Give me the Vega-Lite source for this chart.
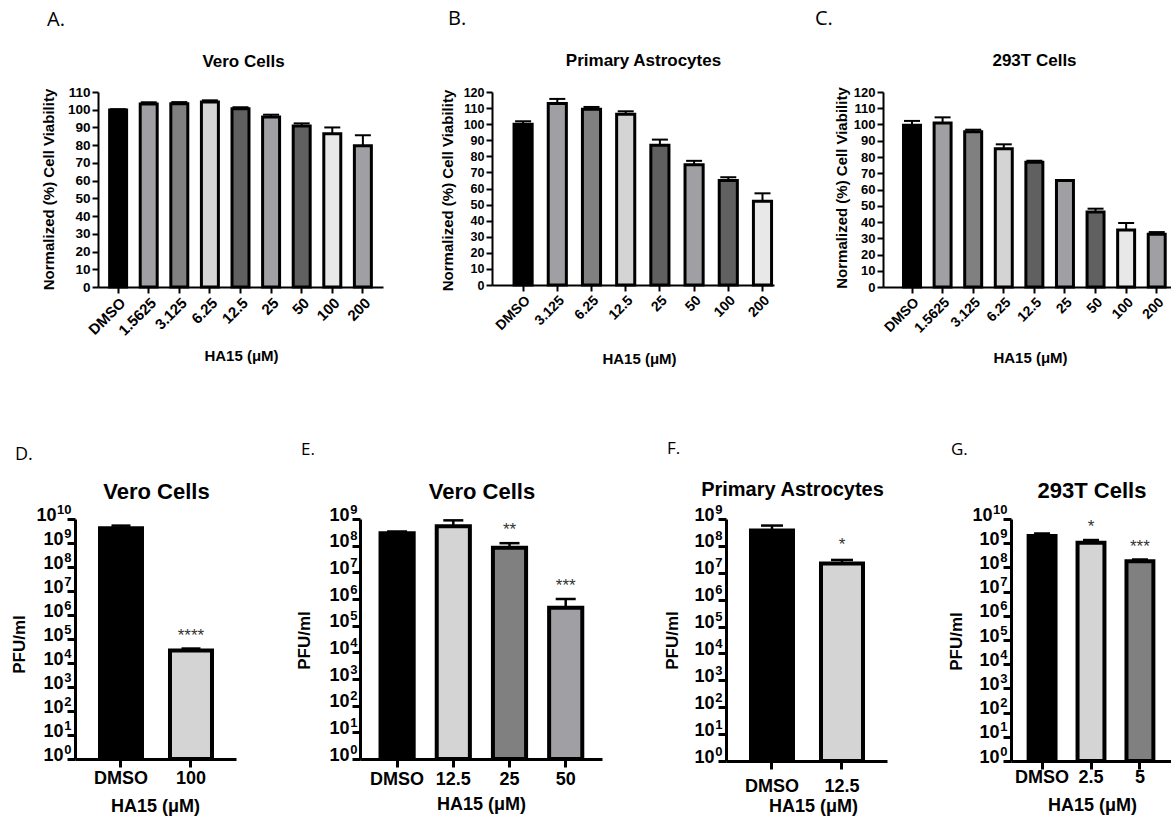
{
  "$schema": "https://vega.github.io/schema/vega-lite/v6.json",
  "autosize": {"type": "none"},
  "padding": {"left": 75, "top": 92, "right": 1096, "bottom": 725},
  "background": "white",
  "config": {
    "font": "Liberation Sans",
    "view": {"stroke": null},
    "axis": {"grid": false, "domainColor": "black", "tickColor": "black", "labelColor": "black", "titleColor": "black", "labelFontWeight": "bold", "titleFontWeight": "bold", "labelFont": "Liberation Sans", "titleFont": "Liberation Sans", "labelOverlap": false},
    "title": {"font": "Open Sans", "fontWeight": "normal", "color": "black", "anchor": "start", "frame": "group"}
  },
  "datasets": {
    "A": [
      {"dose": "DMSO", "value": 99.8, "upper": 100.3},
      {"dose": "1.5625", "value": 103.2, "upper": 104.2},
      {"dose": "3.125", "value": 103.4, "upper": 104.3},
      {"dose": "6.25", "value": 104.4, "upper": 105.3},
      {"dose": "12.5", "value": 100.6, "upper": 101.4},
      {"dose": "25", "value": 95.9, "upper": 97.2},
      {"dose": "50", "value": 90.8, "upper": 92.3},
      {"dose": "100", "value": 86.5, "upper": 90.0},
      {"dose": "200", "value": 79.7, "upper": 85.6}
    ],
    "B": [
      {"dose": "DMSO", "value": 100.0, "upper": 101.8},
      {"dose": "3.125", "value": 112.8, "upper": 115.7},
      {"dose": "6.25", "value": 109.2, "upper": 110.7},
      {"dose": "12.5", "value": 106.1, "upper": 108.0},
      {"dose": "25", "value": 86.9, "upper": 90.4},
      {"dose": "50", "value": 74.7, "upper": 77.2},
      {"dose": "100", "value": 65.0, "upper": 67.0},
      {"dose": "200", "value": 52.0, "upper": 57.0}
    ],
    "C": [
      {"dose": "DMSO", "value": 99.5, "upper": 102.2},
      {"dose": "1.5625", "value": 100.9, "upper": 104.4},
      {"dose": "3.125", "value": 95.6, "upper": 96.8},
      {"dose": "6.25", "value": 85.1, "upper": 87.8},
      {"dose": "12.5", "value": 76.7, "upper": 77.7},
      {"dose": "25", "value": 65.5, "upper": 65.5},
      {"dose": "50", "value": 46.1, "upper": 48.2},
      {"dose": "100", "value": 35.1, "upper": 39.4},
      {"dose": "200", "value": 32.5, "upper": 33.8}
    ],
    "D": [
      {"dose": "DMSO", "value": 4100000000, "upper": 5300000000, "sig": ""},
      {"dose": "100", "value": 33000, "upper": 40000, "sig": "****"}
    ],
    "E": [
      {"dose": "DMSO", "value": 290000000, "upper": 340000000, "sig": ""},
      {"dose": "12.5", "value": 540000000, "upper": 890000000, "sig": ""},
      {"dose": "25", "value": 83000000, "upper": 124000000, "sig": "**"},
      {"dose": "50", "value": 470000, "upper": 1000000, "sig": "***"}
    ],
    "F": [
      {"dose": "DMSO", "value": 370000000, "upper": 570000000, "sig": ""},
      {"dose": "12.5", "value": 22000000, "upper": 30000000, "sig": "*"}
    ],
    "G": [
      {"dose": "DMSO", "value": 2000000000, "upper": 2500000000, "sig": ""},
      {"dose": "2.5", "value": 1050000000, "upper": 1350000000, "sig": "*"},
      {"dose": "5", "value": 180000000, "upper": 210000000, "sig": "***"}
    ]
  },
  "vconcat": [
    {
      "hconcat": [
        {"width": 1, "height": 1, "data": {"values": []}, "mark": {"type": "point", "opacity": 0}},
        {
          "width": 285, "height": 195,
          "title": {"text": "A.", "fontSize": 20, "dx": -51, "offset": 22},
          "data": {"name": "A"},
          "resolve": {"axis": {"x": "independent"}},
          "layer": [
            {"mark": {"type": "rule", "strokeWidth": 2, "color": "black"},
             "encoding": {
               "x": {"field": "dose", "type": "nominal", "scale": {"domain": ["DMSO","1.5625","3.125","6.25","12.5","25","50","100","200"], "paddingInner": 0.445, "paddingOuter": 0.38, "align": 0.5},
                     "axis": {"orient": "top", "title": "Vero Cells", "labels": false, "ticks": false, "domain": false, "titleFontSize": 17, "titleX": 145, "titleY": -26, "titleAlign": "center", "titleBaseline": "alphabetic", "titleAngle": 0}},
               "y": {"field": "value", "type": "quantitative", "scale": {"domain": [0, 110]},
                     "axis": {"values": [0,10,20,30,40,50,60,70,80,90,100,110], "title": "Normalized (%) Cell Viability", "titleFontSize": 15, "titleX": -45, "titleY": 97, "titleAlign": "center", "titleBaseline": "alphabetic", "labelFontSize": 13.5, "labelPadding": 2, "tickSize": 6, "tickWidth": 2, "domainWidth": 2}},
               "y2": {"field": "upper"}
             }},
            {"mark": {"type": "tick", "orient": "horizontal", "size": 16, "thickness": 2, "color": "black", "opacity": 1},
             "encoding": {
               "x": {"field": "dose", "type": "nominal", "axis": null},
               "y": {"field": "upper", "type": "quantitative", "scale": {"domain": [0, 110]},
                     "axis": {"values": [0,10,20,30,40,50,60,70,80,90,100,110], "title": "Normalized (%) Cell Viability", "titleFontSize": 15, "titleX": -45, "titleY": 97, "titleAlign": "center", "titleBaseline": "alphabetic", "labelFontSize": 13.5, "labelPadding": 2, "tickSize": 6, "tickWidth": 2, "domainWidth": 2}}
             }},
            {"mark": {"type": "bar", "stroke": "black", "strokeWidth": 3},
             "encoding": {
               "x": {"field": "dose", "type": "nominal",
                     "axis": {"title": "HA15 (μM)", "labelAngle": -45, "labelFontSize": 15, "labelPadding": 2, "tickSize": 6, "tickWidth": 2, "domainWidth": 2, "titleFontSize": 15, "titleX": 143, "titleY": 73, "titleBaseline": "alphabetic", "titleAlign": "center"}},
               "y": {"field": "value", "type": "quantitative", "scale": {"domain": [0, 110]},
                     "axis": {"values": [0,10,20,30,40,50,60,70,80,90,100,110], "title": "Normalized (%) Cell Viability", "titleFontSize": 15, "titleX": -45, "titleY": 97, "titleAlign": "center", "titleBaseline": "alphabetic", "labelFontSize": 13.5, "labelPadding": 2, "tickSize": 6, "tickWidth": 2, "domainWidth": 2}},
               "fill": {"field": "dose", "type": "nominal", "legend": null,
                        "scale": {"domain": ["DMSO","1.5625","3.125","6.25","12.5","25","50","100","200"], "range": ["#000000","#a0a0a4","#808080","#d4d4d4","#606060","#a0a0a4","#606060","#e8e8e8","#a0a0a4"]}}
             }}
          ]
        },
        {"width": 65, "height": 1, "data": {"values": []}, "mark": {"type": "point", "opacity": 0}},
        {
          "width": 282, "height": 193,
          "title": {"text": "B.", "fontSize": 20, "dx": -44, "offset": 22},
          "data": {"name": "B"},
          "resolve": {"axis": {"x": "independent"}},
          "layer": [
            {"mark": {"type": "rule", "strokeWidth": 2, "color": "black"},
             "encoding": {
               "x": {"field": "dose", "type": "nominal", "scale": {"domain": ["DMSO","3.125","6.25","12.5","25","50","100","200"], "paddingInner": 0.47, "paddingOuter": 0.358, "align": 0.9},
                     "axis": {"orient": "top", "title": "Primary Astrocytes", "labels": false, "ticks": false, "domain": false, "titleFontSize": 17, "titleX": 151, "titleY": -27, "titleAlign": "center", "titleBaseline": "alphabetic", "titleAngle": 0}},
               "y": {"field": "value", "type": "quantitative", "scale": {"domain": [0, 120]},
                     "axis": {"values": [0,10,20,30,40,50,60,70,80,90,100,110,120], "title": "Normalized (%) Cell Viability", "titleFontSize": 15, "titleX": -40, "titleY": 98, "titleAlign": "center", "titleBaseline": "alphabetic", "labelFontSize": 12.5, "labelPadding": 2, "tickSize": 6, "tickWidth": 2, "domainWidth": 2}},
               "y2": {"field": "upper"}
             }},
            {"mark": {"type": "tick", "orient": "horizontal", "size": 16, "thickness": 2, "color": "black", "opacity": 1},
             "encoding": {
               "x": {"field": "dose", "type": "nominal", "axis": null},
               "y": {"field": "upper", "type": "quantitative", "scale": {"domain": [0, 120]},
                     "axis": {"values": [0,10,20,30,40,50,60,70,80,90,100,110,120], "title": "Normalized (%) Cell Viability", "titleFontSize": 15, "titleX": -40, "titleY": 98, "titleAlign": "center", "titleBaseline": "alphabetic", "labelFontSize": 12.5, "labelPadding": 2, "tickSize": 6, "tickWidth": 2, "domainWidth": 2}}
             }},
            {"mark": {"type": "bar", "stroke": "black", "strokeWidth": 3},
             "encoding": {
               "x": {"field": "dose", "type": "nominal",
                     "axis": {"title": "HA15 (μM)", "labelAngle": -45, "labelFontSize": 14, "labelPadding": 2, "tickSize": 6, "tickWidth": 2, "domainWidth": 2, "titleFontSize": 15, "titleX": 147, "titleY": 78, "titleBaseline": "alphabetic", "titleAlign": "center"}},
               "y": {"field": "value", "type": "quantitative", "scale": {"domain": [0, 120]},
                     "axis": {"values": [0,10,20,30,40,50,60,70,80,90,100,110,120], "title": "Normalized (%) Cell Viability", "titleFontSize": 15, "titleX": -40, "titleY": 98, "titleAlign": "center", "titleBaseline": "alphabetic", "labelFontSize": 12.5, "labelPadding": 2, "tickSize": 6, "tickWidth": 2, "domainWidth": 2}},
               "fill": {"field": "dose", "type": "nominal", "legend": null,
                        "scale": {"domain": ["DMSO","3.125","6.25","12.5","25","50","100","200"], "range": ["#000000","#a0a0a4","#808080","#d4d4d4","#606060","#a0a0a4","#606060","#e8e8e8"]}}
             }}
          ]
        },
        {"width": 65, "height": 1, "data": {"values": []}, "mark": {"type": "point", "opacity": 0}},
        {
          "width": 288, "height": 195,
          "title": {"text": "C.", "fontSize": 20, "dx": -68, "offset": 22},
          "data": {"name": "C"},
          "resolve": {"axis": {"x": "independent"}},
          "layer": [
            {"mark": {"type": "rule", "strokeWidth": 2, "color": "black"},
             "encoding": {
               "x": {"field": "dose", "type": "nominal", "scale": {"domain": ["DMSO","1.5625","3.125","6.25","12.5","25","50","100","200"], "paddingInner": 0.445, "paddingOuter": 0.43, "align": 0.78},
                     "axis": {"orient": "top", "title": "293T Cells", "labels": false, "ticks": false, "domain": false, "titleFontSize": 17, "titleX": 151, "titleY": -27, "titleAlign": "center", "titleBaseline": "alphabetic", "titleAngle": 0}},
               "y": {"field": "value", "type": "quantitative", "scale": {"domain": [0, 120]},
                     "axis": {"values": [0,10,20,30,40,50,60,70,80,90,100,110,120], "title": "Normalized (%) Cell Viability", "titleFontSize": 15, "titleX": -37, "titleY": 95.5, "titleAlign": "center", "titleBaseline": "alphabetic", "labelFontSize": 13, "labelPadding": 2, "tickSize": 6, "tickWidth": 2, "domainWidth": 2}},
               "y2": {"field": "upper"}
             }},
            {"mark": {"type": "tick", "orient": "horizontal", "size": 16, "thickness": 2, "color": "black", "opacity": 1},
             "encoding": {
               "x": {"field": "dose", "type": "nominal", "axis": null},
               "y": {"field": "upper", "type": "quantitative", "scale": {"domain": [0, 120]},
                     "axis": {"values": [0,10,20,30,40,50,60,70,80,90,100,110,120], "title": "Normalized (%) Cell Viability", "titleFontSize": 15, "titleX": -37, "titleY": 95.5, "titleAlign": "center", "titleBaseline": "alphabetic", "labelFontSize": 13, "labelPadding": 2, "tickSize": 6, "tickWidth": 2, "domainWidth": 2}}
             }},
            {"mark": {"type": "bar", "stroke": "black", "strokeWidth": 3},
             "encoding": {
               "x": {"field": "dose", "type": "nominal",
                     "axis": {"title": "HA15 (μM)", "labelAngle": -45, "labelFontSize": 14, "labelPadding": 2, "tickSize": 6, "tickWidth": 2, "domainWidth": 2, "titleFontSize": 15, "titleX": 147, "titleY": 75, "titleBaseline": "alphabetic", "titleAlign": "center"}},
               "y": {"field": "value", "type": "quantitative", "scale": {"domain": [0, 120]},
                     "axis": {"values": [0,10,20,30,40,50,60,70,80,90,100,110,120], "title": "Normalized (%) Cell Viability", "titleFontSize": 15, "titleX": -37, "titleY": 95.5, "titleAlign": "center", "titleBaseline": "alphabetic", "labelFontSize": 13, "labelPadding": 2, "tickSize": 6, "tickWidth": 2, "domainWidth": 2}},
               "fill": {"field": "dose", "type": "nominal", "legend": null,
                        "scale": {"domain": ["DMSO","1.5625","3.125","6.25","12.5","25","50","100","200"], "range": ["#000000","#a0a0a4","#808080","#d4d4d4","#606060","#a0a0a4","#606060","#e8e8e8","#a0a0a4"]}}
             }}
          ]
        }
      ],
      "spacing": 22,
      "bounds": "flush",
      "resolve": {"scale": {"fill": "independent"}}
    },
    {
      "hconcat": [
        {
          "width": 161, "height": 240,
          "title": {"text": "D.", "fontSize": 18, "dx": -60, "offset": 16},
          "data": {"name": "D"},
          "resolve": {"axis": {"x": "independent", "y": "independent"}},
          "layer": [
            {"mark": {"type": "rule", "strokeWidth": 2.5, "color": "black"},
             "encoding": {
               "x": {"field": "dose", "type": "nominal", "scale": {"domain": ["DMSO","100"], "paddingInner": 0.4, "paddingOuter": 0.35, "align": 0.51},
                     "axis": {"orient": "top", "title": "Vero Cells", "labels": false, "ticks": false, "domain": false, "titleFontSize": 22, "titleX": 81, "titleY": -21, "titleAlign": "center", "titleBaseline": "alphabetic", "titleAngle": 0}},
               "y": {"field": "value", "type": "quantitative", "scale": {"type": "log", "domain": [1, 10000000000]},
                     "axis": {"orient": "left", "values": [1,10,100,1000,10000,100000,1000000,10000000,100000000,1000000000,10000000000], "labelExpr": "datum.value > 5000000000 ? '' : '10'", "title": "PFU/ml", "titleFontSize": 17, "titleX": -51, "titleY": 125, "titleAlign": "center", "titleBaseline": "alphabetic", "labelFontSize": 18, "labelBaseline": "alphabetic", "labelOffset": 1, "labelPadding": 4, "tickSize": 8, "tickWidth": 3, "domainWidth": 3}},
               "y2": {"field": "upper"}
             }},
            {"mark": {"type": "tick", "orient": "horizontal", "size": 19, "thickness": 2.5, "color": "black", "opacity": 1},
             "encoding": {
               "x": {"field": "dose", "type": "nominal", "axis": null},
               "y": {"field": "upper", "type": "quantitative", "scale": {"type": "log", "domain": [1, 10000000000]},
                     "axis": {"orient": "left", "values": [1,10,100,1000,10000,100000,1000000,10000000,100000000,1000000000,10000000000], "labelExpr": "format(round(log(datum.value)/LN10), 'd')", "title": null, "domain": false, "ticks": false, "tickSize": 0, "labelFontSize": 13, "labelBaseline": "alphabetic", "labelAlign": "right", "labelOffset": -6, "labelPadding": 4}}
             }},
            {"mark": {"type": "bar", "stroke": "black", "strokeWidth": 4},
             "encoding": {
               "x": {"field": "dose", "type": "nominal",
                     "axis": {"title": "HA15 (μM)", "labelAngle": 0, "labelFontSize": 18, "labelBaseline": "alphabetic", "labelPadding": 16, "tickSize": 8, "tickWidth": 3, "domainWidth": 3, "titleFontSize": 18, "titleX": 80, "titleY": 52, "titleBaseline": "alphabetic", "titleAlign": "center"}},
               "y": {"field": "value", "type": "quantitative", "scale": {"type": "log", "domain": [1, 10000000000]},
                     "axis": {"orient": "left", "values": [10000000000], "labelExpr": "'10'", "title": null, "domain": false, "ticks": false, "tickSize": 0, "labelFontSize": 18, "labelBaseline": "alphabetic", "labelAlign": "right", "labelOffset": 1, "labelPadding": 19}},
               "y2": {"datum": 1},
               "fill": {"field": "dose", "type": "nominal", "legend": null,
                        "scale": {"domain": ["DMSO","100"], "range": ["#000000","#d4d4d4"]}}
             }},
            {"mark": {"type": "text", "dy": -8, "baseline": "alphabetic", "fontSize": 17, "fontWeight": "normal", "color": "#333333"},
             "encoding": {
               "x": {"field": "dose", "type": "nominal", "axis": null},
               "y": {"field": "upper", "type": "quantitative", "scale": {"type": "log", "domain": [1, 10000000000]}, "axis": null},
               "text": {"field": "sig"}
             }}
          ]
        },
        {
          "width": 242, "height": 240,
          "title": {"text": "E.", "fontSize": 17, "dx": -59, "offset": 21},
          "data": {"name": "E"},
          "resolve": {"axis": {"x": "independent", "y": "independent"}},
          "layer": [
            {"mark": {"type": "rule", "strokeWidth": 2.5, "color": "black"},
             "encoding": {
               "x": {"field": "dose", "type": "nominal", "scale": {"domain": ["DMSO","12.5","25","50"], "paddingInner": 0.41, "paddingOuter": 0.358, "align": 0.51},
                     "axis": {"orient": "top", "title": "Vero Cells", "labels": false, "ticks": false, "domain": false, "titleFontSize": 22, "titleX": 121.5, "titleY": -21, "titleAlign": "center", "titleBaseline": "alphabetic", "titleAngle": 0}},
               "y": {"field": "value", "type": "quantitative", "scale": {"type": "log", "domain": [1, 1000000000]},
                     "axis": {"orient": "left", "values": [1,10,100,1000,10000,100000,1000000,10000000,100000000,1000000000], "labelExpr": "'10'", "title": "PFU/ml", "titleFontSize": 17, "titleX": -51, "titleY": 121, "titleAlign": "center", "titleBaseline": "alphabetic", "labelFontSize": 18, "labelBaseline": "alphabetic", "labelOffset": 1, "labelPadding": 3, "tickSize": 8, "tickWidth": 3, "domainWidth": 3}},
               "y2": {"field": "upper"}
             }},
            {"mark": {"type": "tick", "orient": "horizontal", "size": 20, "thickness": 2.5, "color": "black", "opacity": 1},
             "encoding": {
               "x": {"field": "dose", "type": "nominal", "axis": null},
               "y": {"field": "upper", "type": "quantitative", "scale": {"type": "log", "domain": [1, 1000000000]},
                     "axis": {"orient": "left", "values": [1,10,100,1000,10000,100000,1000000,10000000,100000000,1000000000], "labelExpr": "format(round(log(datum.value)/LN10), 'd')", "title": null, "domain": false, "ticks": false, "tickSize": 0, "labelFontSize": 13, "labelBaseline": "alphabetic", "labelAlign": "right", "labelOffset": -6, "labelPadding": 3}}
             }},
            {"mark": {"type": "bar", "stroke": "black", "strokeWidth": 4},
             "encoding": {
               "x": {"field": "dose", "type": "nominal",
                     "axis": {"title": "HA15 (μM)", "labelAngle": 0, "labelFontSize": 18, "labelBaseline": "alphabetic", "labelPadding": 17, "tickSize": 8, "tickWidth": 3, "domainWidth": 3, "titleFontSize": 18, "titleX": 121, "titleY": 50, "titleBaseline": "alphabetic", "titleAlign": "center"}},
               "y": {"field": "value", "type": "quantitative", "scale": {"type": "log", "domain": [1, 1000000000]}, "axis": null},
               "y2": {"datum": 1},
               "fill": {"field": "dose", "type": "nominal", "legend": null,
                        "scale": {"domain": ["DMSO","12.5","25","50"], "range": ["#000000","#d4d4d4","#808080","#a0a0a4"]}}
             }},
            {"mark": {"type": "text", "dy": -8, "baseline": "alphabetic", "fontSize": 17, "fontWeight": "normal", "color": "#333333"},
             "encoding": {
               "x": {"field": "dose", "type": "nominal", "axis": null},
               "y": {"field": "upper", "type": "quantitative", "scale": {"type": "log", "domain": [1, 1000000000]}, "axis": null},
               "text": {"field": "sig"}
             }}
          ]
        },
        {
          "width": 161, "height": 242,
          "title": {"text": "F.", "fontSize": 17, "dx": -59, "offset": 21},
          "data": {"name": "F"},
          "resolve": {"axis": {"x": "independent", "y": "independent"}},
          "layer": [
            {"mark": {"type": "rule", "strokeWidth": 2.5, "color": "black"},
             "encoding": {
               "x": {"field": "dose", "type": "nominal", "scale": {"domain": ["DMSO","12.5"], "paddingInner": 0.4, "paddingOuter": 0.35, "align": 0.51},
                     "axis": {"orient": "top", "title": "Primary Astrocytes", "labels": false, "ticks": false, "domain": false, "titleFontSize": 20, "titleX": 66, "titleY": -24, "titleAlign": "center", "titleBaseline": "alphabetic", "titleAngle": 0}},
               "y": {"field": "value", "type": "quantitative", "scale": {"type": "log", "domain": [1, 1000000000]},
                     "axis": {"orient": "left", "values": [1,10,100,1000,10000,100000,1000000,10000000,100000000,1000000000], "labelExpr": "'10'", "title": "PFU/ml", "titleFontSize": 17, "titleX": -49, "titleY": 121, "titleAlign": "center", "titleBaseline": "alphabetic", "labelFontSize": 18, "labelBaseline": "alphabetic", "labelOffset": 1, "labelPadding": 4, "tickSize": 8, "tickWidth": 3, "domainWidth": 3}},
               "y2": {"field": "upper"}
             }},
            {"mark": {"type": "tick", "orient": "horizontal", "size": 22, "thickness": 2.5, "color": "black", "opacity": 1},
             "encoding": {
               "x": {"field": "dose", "type": "nominal", "axis": null},
               "y": {"field": "upper", "type": "quantitative", "scale": {"type": "log", "domain": [1, 1000000000]},
                     "axis": {"orient": "left", "values": [1,10,100,1000,10000,100000,1000000,10000000,100000000,1000000000], "labelExpr": "format(round(log(datum.value)/LN10), 'd')", "title": null, "domain": false, "ticks": false, "tickSize": 0, "labelFontSize": 13, "labelBaseline": "alphabetic", "labelAlign": "right", "labelOffset": -6, "labelPadding": 4}}
             }},
            {"mark": {"type": "bar", "stroke": "black", "strokeWidth": 4},
             "encoding": {
               "x": {"field": "dose", "type": "nominal",
                     "axis": {"title": "HA15 (μM)", "labelAngle": 0, "labelFontSize": 18, "labelBaseline": "alphabetic", "labelPadding": 22, "tickSize": 8, "tickWidth": 3, "domainWidth": 3, "titleFontSize": 18, "titleX": 87, "titleY": 50, "titleBaseline": "alphabetic", "titleAlign": "center"}},
               "y": {"field": "value", "type": "quantitative", "scale": {"type": "log", "domain": [1, 1000000000]}, "axis": null},
               "y2": {"datum": 1},
               "fill": {"field": "dose", "type": "nominal", "legend": null,
                        "scale": {"domain": ["DMSO","12.5"], "range": ["#000000","#d4d4d4"]}}
             }},
            {"mark": {"type": "text", "dy": -10, "baseline": "alphabetic", "fontSize": 17, "fontWeight": "normal", "color": "#333333"},
             "encoding": {
               "x": {"field": "dose", "type": "nominal", "axis": null},
               "y": {"field": "upper", "type": "quantitative", "scale": {"type": "log", "domain": [1, 1000000000]}, "axis": null},
               "text": {"field": "sig"}
             }}
          ]
        },
        {
          "width": 160, "height": 242,
          "title": {"text": "G.", "fontSize": 17, "dx": -60, "offset": 20},
          "data": {"name": "G"},
          "resolve": {"axis": {"x": "independent", "y": "independent"}},
          "layer": [
            {"mark": {"type": "rule", "strokeWidth": 2.5, "color": "black"},
             "encoding": {
               "x": {"field": "dose", "type": "nominal", "scale": {"domain": ["DMSO","2.5","5"], "paddingInner": 0.45, "paddingOuter": 0.36, "align": 0.5},
                     "axis": {"orient": "top", "title": "293T Cells", "labels": false, "ticks": false, "domain": false, "titleFontSize": 22, "titleX": 80.5, "titleY": -22, "titleAlign": "center", "titleBaseline": "alphabetic", "titleAngle": 0}},
               "y": {"field": "value", "type": "quantitative", "scale": {"type": "log", "domain": [1, 10000000000]},
                     "axis": {"orient": "left", "values": [1,10,100,1000,10000,100000,1000000,10000000,100000000,1000000000,10000000000], "labelExpr": "datum.value > 5000000000 ? '' : '10'", "title": "PFU/ml", "titleFontSize": 17, "titleX": -50, "titleY": 122, "titleAlign": "center", "titleBaseline": "alphabetic", "labelFontSize": 18, "labelBaseline": "alphabetic", "labelOffset": 1, "labelPadding": 4, "tickSize": 8, "tickWidth": 3, "domainWidth": 3}},
               "y2": {"field": "upper"}
             }},
            {"mark": {"type": "tick", "orient": "horizontal", "size": 16, "thickness": 2.5, "color": "black", "opacity": 1},
             "encoding": {
               "x": {"field": "dose", "type": "nominal", "axis": null},
               "y": {"field": "upper", "type": "quantitative", "scale": {"type": "log", "domain": [1, 10000000000]},
                     "axis": {"orient": "left", "values": [1,10,100,1000,10000,100000,1000000,10000000,100000000,1000000000,10000000000], "labelExpr": "format(round(log(datum.value)/LN10), 'd')", "title": null, "domain": false, "ticks": false, "tickSize": 0, "labelFontSize": 13, "labelBaseline": "alphabetic", "labelAlign": "right", "labelOffset": -6, "labelPadding": 4}}
             }},
            {"mark": {"type": "bar", "stroke": "black", "strokeWidth": 4},
             "encoding": {
               "x": {"field": "dose", "type": "nominal",
                     "axis": {"title": "HA15 (μM)", "labelAngle": 0, "labelFontSize": 18, "labelBaseline": "alphabetic", "labelPadding": 13, "tickSize": 8, "tickWidth": 3, "domainWidth": 3, "titleFontSize": 18, "titleX": 81, "titleY": 49, "titleBaseline": "alphabetic", "titleAlign": "center"}},
               "y": {"field": "value", "type": "quantitative", "scale": {"type": "log", "domain": [1, 10000000000]},
                     "axis": {"orient": "left", "values": [10000000000], "labelExpr": "'10'", "title": null, "domain": false, "ticks": false, "tickSize": 0, "labelFontSize": 18, "labelBaseline": "alphabetic", "labelAlign": "right", "labelOffset": 1, "labelPadding": 19}},
               "y2": {"datum": 1},
               "fill": {"field": "dose", "type": "nominal", "legend": null,
                        "scale": {"domain": ["DMSO","2.5","5"], "range": ["#000000","#d4d4d4","#808080"]}}
             }},
            {"mark": {"type": "text", "dy": -8, "baseline": "alphabetic", "fontSize": 17, "fontWeight": "normal", "color": "#333333"},
             "encoding": {
               "x": {"field": "dose", "type": "nominal", "axis": null},
               "y": {"field": "upper", "type": "quantitative", "scale": {"type": "log", "domain": [1, 10000000000]}, "axis": null},
               "text": {"field": "sig"}
             }}
          ]
        }
      ],
      "spacing": 124,
      "bounds": "flush",
      "resolve": {"scale": {"fill": "independent"}}
    }
  ],
  "spacing": 427,
  "bounds": "flush",
  "resolve": {"scale": {"fill": "independent"}}
}
